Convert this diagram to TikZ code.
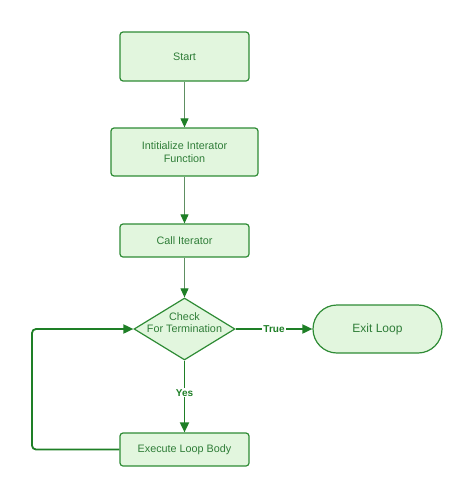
\documentclass[tikz,border=0pt]{standalone}
\usepackage{fontspec}
\setmainfont{Liberation Sans}
\usetikzlibrary{shapes.geometric,arrows.meta}
\definecolor{boxfill}{HTML}{E2F6DE}
\definecolor{boxline}{HTML}{2E8B35}
\definecolor{txtcol}{HTML}{2F7D38}
\definecolor{arrcol}{HTML}{1E7F26}
\definecolor{thinarr}{HTML}{5E8F62}
\tikzset{
  box/.style={draw=boxline, fill=boxfill, line width=1.2pt, rounded corners=3pt,
    text=txtcol, font=\fontsize{10.8}{13}\selectfont, align=center, inner sep=0pt},
  dia/.style={draw=boxline, fill=boxfill, line width=1.2pt, diamond, aspect=1.63,
    inner sep=0pt, minimum width=101pt, minimum height=62pt},
  diatext/.style={text=txtcol, font=\fontsize{10.8}{12.5}\selectfont, align=center, inner sep=0pt},
  term/.style={draw=boxline, fill=boxfill, line width=1.2pt, rounded corners=24pt,
    text=txtcol, font=\fontsize{12}{14}\selectfont, inner sep=0pt,
    minimum width=129pt, minimum height=48pt},
  thin/.style={draw=thinarr, line width=0.9pt, -{Triangle[length=9pt,width=8pt,fill=arrcol,color=arrcol]}},
  thick/.style={draw=arrcol, line width=1.8pt, -{Triangle[length=10pt,width=9pt]}},
  lab/.style={fill=white, text=arrcol, font=\bfseries\fontsize{10}{12}\selectfont, inner sep=1pt}
}
\begin{document}
\begin{tikzpicture}[x=1pt,y=-1pt]
\useasboundingbox (0,0) rectangle (474,498);
\node[box, minimum width=129pt, minimum height=49pt] (start) at (184.5,56.5) {Start};
\node[box, minimum width=147pt, minimum height=48pt] (init) at (184.5,152) {Intitialize Interator\\Function};
\node[box, minimum width=129pt, minimum height=33pt] (call) at (184.5,240.5) {Call Iterator};
\node[dia, label={[diatext, yshift=6.5pt]center:{Check\\For Termination}}] (check) at (184.5,329) {};
\node[term] (exit) at (377.5,329) {Exit Loop};
\node[box, minimum width=129pt, minimum height=33pt] (exec) at (184.5,449.5) {Execute Loop Body};
\coordinate (corner1) at (32,449.5);
\coordinate (corner2) at (32,329);
\draw[thin] (start) -- (init);
\draw[thin] (init) -- (call);
\draw[thin] (call) -- (check);
\draw[thick] (check) -- node[lab] {True} (exit);
\draw[thick] (check) -- node[lab, pos=0.45] {Yes} (exec);
\draw[thick, rounded corners=4pt] (exec.west) -- (corner1) -- (corner2) -- (check.west);
\end{tikzpicture}
\end{document}
